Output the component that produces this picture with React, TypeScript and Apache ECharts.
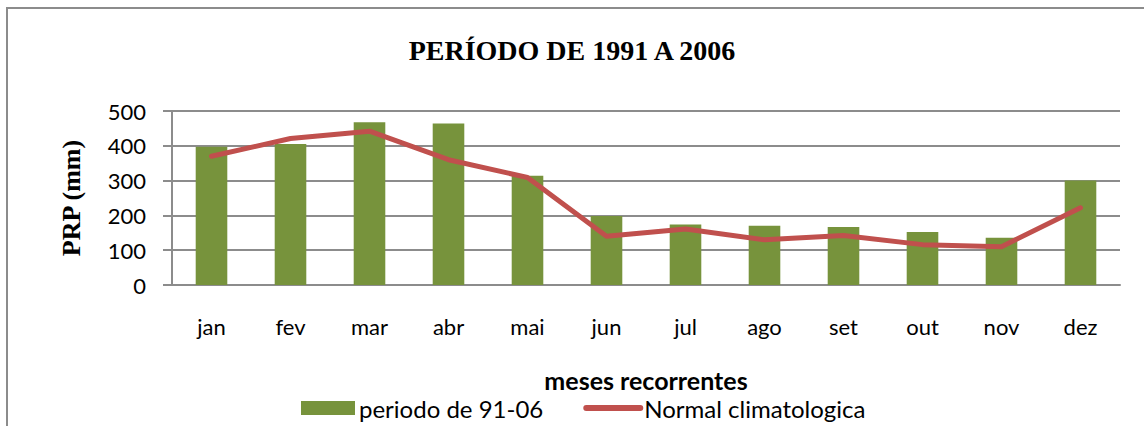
import React, { useEffect, useRef } from "react";
import * as echarts from "echarts";

const months = ["jan", "fev", "mar", "abr", "mai", "jun", "jul", "ago", "set", "out", "nov", "dez"];
const periodo9106 = [397, 405, 468, 464, 314, 198, 174, 170, 167, 152, 136, 300];
const normalClimatologica = [370, 421, 442, 360, 309, 140, 161, 130, 142, 116, 110, 222];
const titleText = "PERÍODO DE 1991 A 2006";
const yAxisTitle = "PRP (mm)";
const xAxisTitle = "meses recorrentes";
const barName = "periodo de 91-06";
const lineName = "Normal climatologica";

const sans = "Lato, 'Open Sans', sans-serif";
const serif = "'Liberation Serif', 'Times New Roman', serif";

export default function App() {
  const ref = useRef<HTMLDivElement>(null);
  useEffect(() => {
    if (!ref.current) return;
    const chart = echarts.init(ref.current, undefined, { renderer: "svg" });
    chart.setOption({
      animation: false,
      backgroundColor: "#ffffff",
      title: {
        text: titleText,
        left: "center",
        top: 31,
        textStyle: { fontFamily: serif, fontWeight: "bold", fontSize: 28, color: "#000" },
      },
      graphic: [
        {
          type: "rect",
          shape: { x: 7, y: 8, width: 1300, height: 600 },
          style: { fill: "none", stroke: "#8c8c8c", lineWidth: 2 },
          silent: true,
        },
      ],
      legend: {
        left: 296,
        top: 391,
        itemWidth: 54,
        itemHeight: 14,
        itemGap: 40,
        textStyle: { fontFamily: sans, fontSize: 24, color: "#000", padding: [0, 0, 0, -1] },
        data: [
          { name: barName, icon: "rect" },
          {
            name: lineName,
            itemStyle: { opacity: 0 },
            lineStyle: { width: 6, color: "#C0504D", cap: "round" },
          },
        ],
      },
      grid: { left: 172, right: 24, top: 111, bottom: 141 },
      xAxis: {
        type: "category",
        data: months,
        name: xAxisTitle,
        nameLocation: "middle",
        nameGap: 82,
        nameTextStyle: { fontFamily: sans, fontWeight: "bold", fontSize: 25, color: "#000" },
        axisLine: { show: true, lineStyle: { color: "#8c8c8c", width: 2 } },
        axisTick: { show: false },
        axisLabel: { fontFamily: sans, fontSize: 22, color: "#000", margin: 30 },
      },
      yAxis: {
        type: "value",
        min: 0,
        max: 500,
        interval: 100,
        name: yAxisTitle,
        nameLocation: "middle",
        nameRotate: 90,
        nameGap: 88,
        nameTextStyle: { fontFamily: serif, fontWeight: "bold", fontSize: 26, color: "#000" },
        axisLine: { show: true, lineStyle: { color: "#8c8c8c", width: 2 } },
        axisTick: { show: true, inside: false, length: 9, lineStyle: { color: "#8c8c8c", width: 2 } },
        axisLabel: { fontFamily: sans, fontSize: 22, color: "#000", margin: 26 },
        splitLine: { show: true, lineStyle: { color: "#8c8c8c", width: 2 } },
      },
      series: [
        {
          name: barName,
          type: "bar",
          data: periodo9106,
          barWidth: "40%",
          itemStyle: { color: "#77933C" },
        },
        {
          name: lineName,
          type: "line",
          data: normalClimatologica,
          symbol: "none",
          lineStyle: { color: "#C0504D", width: 5, cap: "round", join: "round" },
          itemStyle: { color: "#C0504D" },
        },
      ],
    });
    return () => chart.dispose();
  }, []);
  return (
    <div
      ref={ref}
      style={{ position: "absolute", left: 0, top: 0, width: 1144, height: 426 }}
    />
  );
}
